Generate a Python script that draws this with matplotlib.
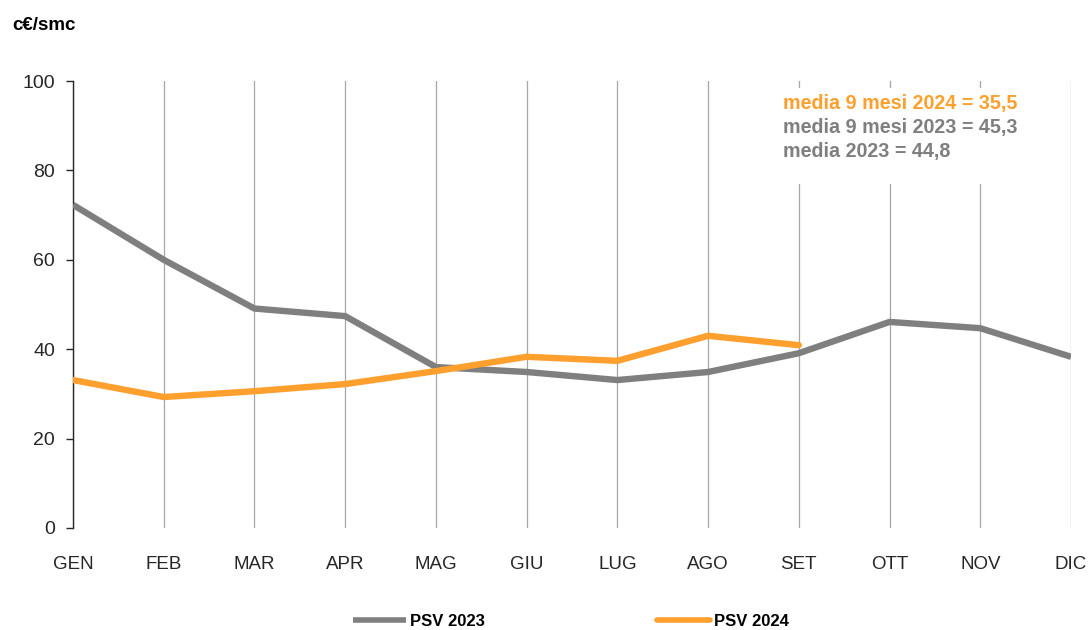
import matplotlib
matplotlib.use("Agg")
import matplotlib.pyplot as plt
from matplotlib.patches import Rectangle

months = ["GEN", "FEB", "MAR", "APR", "MAG", "GIU", "LUG", "AGO", "SET", "OTT", "NOV", "DIC"]
psv_2023 = [72.3, 60.0, 49.1, 47.4, 36.0, 34.9, 33.1, 34.9, 39.1, 46.1, 44.7, 38.3]
psv_2024 = [33.1, 29.3, 30.6, 32.2, 35.1, 38.3, 37.4, 43.0, 40.9]
yticks = [0, 20, 40, 60, 80, 100]
notes = ["media 9 mesi 2024 = 35,5", "media 9 mesi 2023 = 45,3", "media 2023 = 44,8"]

GRAY = "#7f7f7f"
ORANGE = "#ff9f2d"

plt.rcParams['font.family'] = ['Liberation Sans', 'DejaVu Sans']

W, H = 1088, 630
fig = plt.figure(figsize=(W / 100, H / 100), dpi=100)
ax = fig.add_axes([73 / W, 1 - 528 / H, (1071 - 73) / W, (528 - 81) / H])

x = list(range(len(months)))
ax.plot(x, psv_2023, color=GRAY, lw=4.6, solid_capstyle='butt', solid_joinstyle='round',
        label="PSV 2023", zorder=3)
ax.plot(x[:len(psv_2024)], psv_2024, color=ORANGE, lw=4.6, solid_capstyle='round',
        solid_joinstyle='round', label="PSV 2024", zorder=4)

ax.set_xlim(0, len(months) - 1)
ax.set_ylim(0, 100)
ax.set_yticks(yticks)
ax.set_xticks(x)
ax.set_xticklabels(months)
ax.xaxis.grid(True, color="#a6a6a6", lw=0.9)
ax.set_axisbelow(True)
for s in ["top", "right", "bottom"]:
    ax.spines[s].set_visible(False)
ax.spines["left"].set_color("#262626")
ax.spines["left"].set_linewidth(1.0)
ax.tick_params(axis="y", length=5, width=1, color="#262626", labelsize=14, labelcolor="#262626", pad=8)
ax.tick_params(axis="x", length=0, labelsize=13.5, labelcolor="#262626", pad=20)

# white box behind notes
ax.add_patch(Rectangle((775 / W, 1 - 184 / H), (1050 - 775) / W, (184 - 88) / H,
                       transform=fig.transFigure, facecolor="white", edgecolor="none", zorder=2))
colors = [ORANGE, GRAY, GRAY]
for i, (t, c) in enumerate(zip(notes, colors)):
    fig.text(783 / W, 1 - (104 + 24 * i) / H, t, color=c, fontsize=14.2, fontweight="bold",
             va="center", ha="left", zorder=5)

fig.text(12 / W, 1 - 25 / H, "c€/smc", fontsize=13.5, fontweight="bold", va="center", ha="left",
         color="black")

leg = fig.legend(loc="center", bbox_to_anchor=(571 / W, 1 - 621 / H), ncol=2, frameon=False,
                 prop={"weight": "bold", "size": 12}, handlelength=3.2, handletextpad=0.25,
                 columnspacing=10.3)
for line in leg.get_lines():
    line.set_linewidth(4)

fig.savefig("out.png", dpi=100)
